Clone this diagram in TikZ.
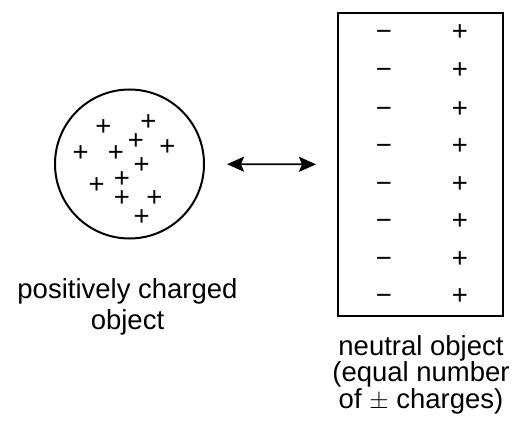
\documentclass[tikz,border=0pt]{standalone}
\usepackage{fontspec}
\setmainfont{Liberation Sans}
\usetikzlibrary{arrows.meta}
\begin{document}
\begin{tikzpicture}[x=1pt,y=-1pt,
  chg/.style={inner sep=0pt,anchor=base,yshift=-9.7pt,font=\fontsize{27.5}{27}\selectfont},
  lbl/.style={inner sep=0pt,anchor=north,align=center},
  body/.style={draw=black,line width=2pt},
  link/.style={line width=1.6pt,{Stealth[length=17pt,width=15pt,inset=3pt]}-{Stealth[length=17pt,width=15pt,inset=3pt]}}]
\useasboundingbox (0,0) rectangle (518,425);
% charged object
\node[body,circle,minimum size=149pt,inner sep=0pt] (obj) at (129.5,164) {};
\foreach \px/\py [count=\i] in {103.3/126,148.3/120.7,136/139.3,80.7/152,116/151.3,167.3/145.3,141.7/164,122/177.7,96.7/183.3,122/196.7,154.3/196.7,141.7/215.3}
  \node[chg] (p\i) at (\px,\py) {+};
% neutral object
\node[body,rectangle,minimum width=165pt,minimum height=303pt,inner sep=0pt] (box) at (420.5,164.5) {};
\foreach \ry [count=\j] in {30.7,69.3,107.3,145,182.7,220,257.3,295}{
  \node[chg] (m\j) at (384,\ry) {−};
  \node[chg] (q\j) at (460,\ry) {+};
}
% arrow
\draw[link,shorten <=22pt,shorten >=21pt] (obj) -- (box);
% labels
\node[lbl,font=\fontsize{27.5}{31}\selectfont] (l1) at (127.5,278.3) {positively charged\\object};
\node[lbl,font=\fontsize{27.5}{26.5}\selectfont] (l2) at (421,335.3) {neutral object\\(equal number\\of $\pm$ charges)};
\end{tikzpicture}
\end{document}
